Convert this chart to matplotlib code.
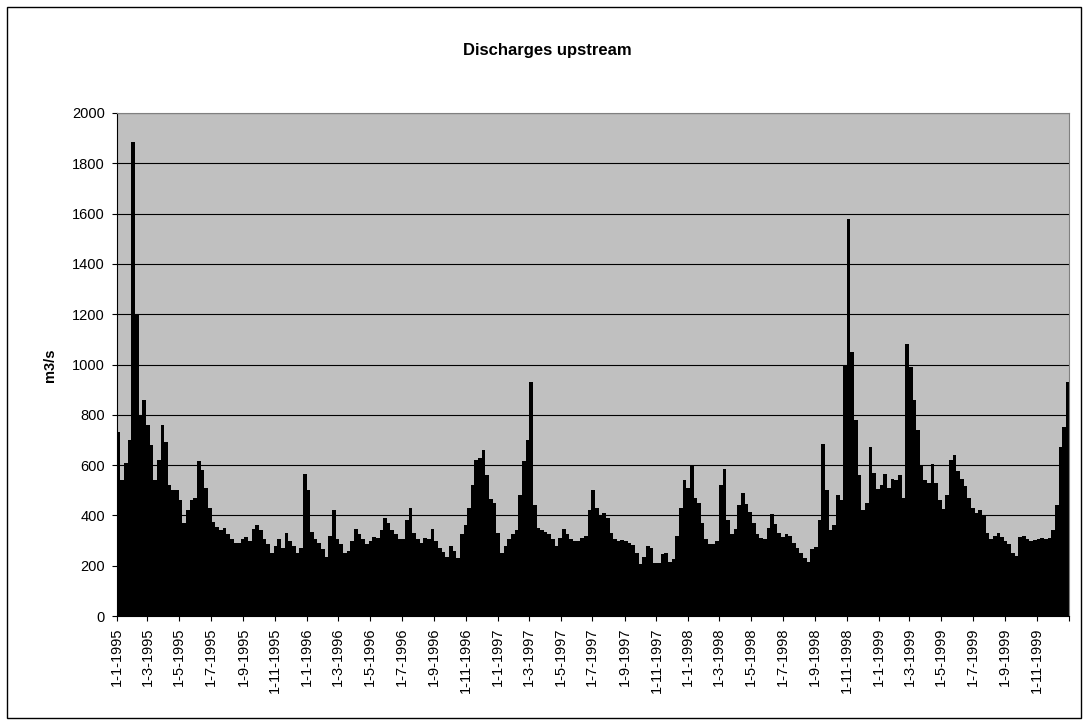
import numpy as np
import pandas as pd
import matplotlib
matplotlib.use("Agg")
import matplotlib.pyplot as plt
import matplotlib.dates as mdates
from matplotlib.patches import Rectangle

plt.rcParams['font.family'] = ['Liberation Sans', 'DejaVu Sans']

# Weekly discharge upstream (m3/s), weeks counted from 1-1-1995
flow_part1 = [730, 540, 610, 700, 1885, 1200, 800, 860, 760, 680,
              540, 620, 760, 690, 520, 500, 500, 460, 370, 420,
              460, 470, 615, 580, 510, 430, 375, 355, 340, 350,
              325, 305, 292, 292, 305, 315, 300, 345, 360, 340,
              308, 285, 250, 280, 305, 270, 330, 300, 280, 250,
              270, 565]
flow_part2 = [500, 335, 305, 290, 265, 235, 320, 420, 305, 285,
              250, 260, 300, 345, 325, 305, 285, 300, 315, 310,
              340, 390, 370, 340, 325, 305, 305, 380, 430, 330,
              305, 290, 310, 305, 345, 300, 270, 255, 235, 280,
              260, 230, 325, 360, 430, 520, 620, 630, 660, 560,
              465, 450]
flow_part3 = [330, 250, 280, 305, 325, 340, 480, 615, 700, 930,
              440, 350, 340, 335, 325, 305, 280, 310, 345, 325,
              305, 300, 300, 310, 320, 420, 500, 430, 400, 410,
              390, 330, 305, 300, 302, 300, 292, 282, 250, 205,
              235, 278, 270, 210, 210, 245, 252, 215, 225, 320,
              430, 540]
flow_part4 = [510, 600, 470, 450, 370, 305, 285, 285, 300, 520,
              585, 380, 325, 345, 440, 490, 445, 415, 370, 325,
              310, 305, 350, 405, 365, 330, 315, 325, 320, 290,
              270, 252, 230, 215, 265, 275, 380, 685, 500, 340,
              360, 480, 460, 1000, 1580, 1050, 780, 560, 420, 450,
              670, 570]
flow_part5 = [505, 520, 565, 510, 545, 540, 560, 470, 1080, 990,
              860, 740, 600, 540, 530, 605, 530, 460, 425, 480,
              620, 640, 575, 545, 515, 470, 430, 408, 420, 400,
              330, 305, 320, 330, 315, 300, 285, 250, 240, 315,
              320, 305, 300, 302, 308, 309, 308, 312, 340, 440,
              670, 750, 930]

flow = flow_part1 + flow_part2 + flow_part3 + flow_part4 + flow_part5
weeks = pd.date_range("1995-01-01", periods=len(flow), freq="7D")

tick_dates = list(pd.date_range("1995-01-01", "1999-11-01", freq="2MS")) + [pd.Timestamp("2000-01-01")]
tick_labels = [f"{d.day}-{d.month}-{d.year}" for d in tick_dates[:-1]] + [""]

fig = plt.figure(figsize=(10.89, 7.26), dpi=100)
ax = fig.add_axes([116.7 / 1089, 1 - 616 / 726, (1069 - 116.7) / 1089, (616 - 113) / 726])
ax.set_facecolor("#c0c0c0")

ax.bar(mdates.date2num(weeks), flow, width=7, align="edge", color="black", linewidth=0)

ax.set_xlim(mdates.date2num(pd.Timestamp("1995-01-01")), mdates.date2num(pd.Timestamp("2000-01-01")))
ax.set_ylim(0, 2000)
ax.set_yticks(np.arange(0, 2001, 200))
ax.set_xticks(mdates.date2num(tick_dates))
ax.set_xticklabels(tick_labels, rotation=90, fontsize=10.5)
ax.tick_params(axis="y", labelsize=10.5)
ax.tick_params(direction="out", length=3.6, width=0.8, pad=5)

ax.yaxis.grid(True, color="black", linewidth=0.8)
ax.set_axisbelow(True)
for side in ["top", "right"]:
    ax.spines[side].set_color("#808080")
for side in ["left", "bottom"]:
    ax.spines[side].set_color("black")

fig.text(0.503, 1 - 51 / 726, "Discharges upstream", ha="center", va="center",
         fontsize=12, fontweight="bold")
fig.text(50 / 1089, 1 - 365 / 726, "m3/s", ha="center", va="center", rotation=90,
         fontsize=10.5, fontweight="bold")

# chart area border
fig.patches.append(Rectangle((7 / 1089, 1 - 718 / 726), (1081 - 7) / 1089, (718 - 7) / 726,
                             transform=fig.transFigure, fill=False, edgecolor="black", linewidth=1))

fig.savefig("out.png", dpi=100)
